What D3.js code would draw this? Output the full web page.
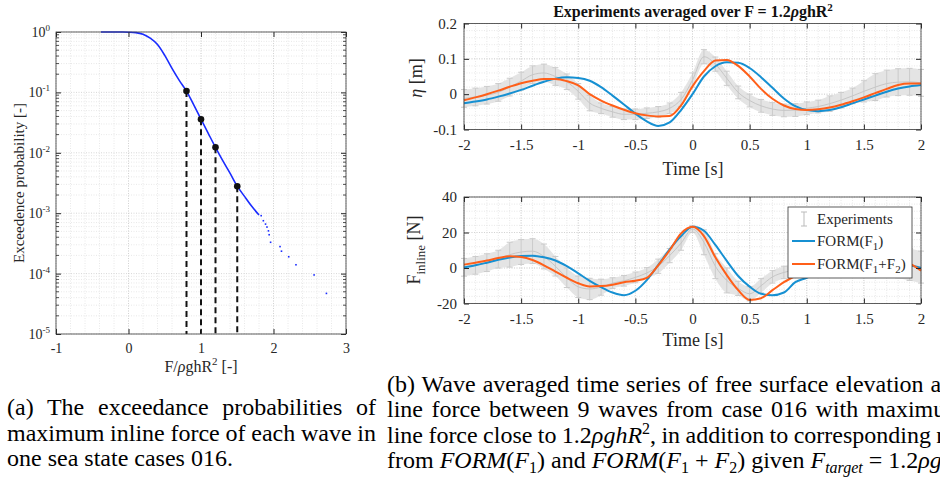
<!DOCTYPE html>
<html>
<head>
<meta charset="utf-8">
<script src="https://cdn.jsdelivr.net/npm/d3@7"></script>
<style>
  body { margin: 0; background: #fff; overflow: hidden; }
  svg { display: block; font-family: "Liberation Serif", "Times New Roman", serif; }
  .minor line { stroke: #e2e2e2; stroke-width: 0.8; stroke-dasharray: 1 1.5; }
  .major line { stroke: #cdcdcd; stroke-width: 0.8; stroke-dasharray: 1 1.5; }
  .tick line { stroke: #262626; }
  text { white-space: pre; }
</style>
</head>
<body>
<svg id="fig" width="940" height="492"></svg>
<script>
// ---- (a) exceedance probability of max inline force
const exceedForce = [-0.38, -0.3, -0.2, -0.1, 0, 0.1, 0.2, 0.3, 0.4, 0.5, 0.6, 0.7, 0.8, 0.9, 1.0, 1.1, 1.2, 1.3, 1.4, 1.5, 1.6, 1.7, 1.8];
const exceedProb = [1.0, 1.0, 1.0, 0.998, 0.993, 0.977, 0.92, 0.79, 0.62, 0.41, 0.25, 0.158, 0.105, 0.062, 0.036, 0.021, 0.0123, 0.0074, 0.0046, 0.0028, 0.0019, 0.0013, 0.00093];
const tailForce = [1.83, 1.86, 1.89, 1.91, 1.93, 1.94, 1.96, 2.09, 2.11, 2.21, 2.31, 2.56, 2.73];
const tailProb = [9.1e-4, 7.5e-4, 6.6e-4, 5.9e-4, 5.1e-4, 4.4e-4, 3.3e-4, 2.8e-4, 2.35e-4, 1.9e-4, 1.4e-4, 9.5e-5, 4.7e-5];
const markForce = [0.8, 1.0, 1.2, 1.5];
const markProb = [0.105, 0.036, 0.0123, 0.0028];
const forceTicksA = [-1, 0, 1, 2, 3];
const probTicks = [1, 1e-1, 1e-2, 1e-3, 1e-4, 1e-5];
const probExp = ["0", "-1", "-2", "-3", "-4", "-5"];

// ---- (b) averaged time series
const time = [-2, -1.9, -1.8, -1.7, -1.6, -1.5, -1.4, -1.3, -1.2, -1.1, -1, -0.9, -0.8, -0.7, -0.6, -0.5, -0.4, -0.3, -0.2, -0.1,
  0, 0.1, 0.2, 0.3, 0.4, 0.5, 0.6, 0.7, 0.8, 0.9, 1, 1.1, 1.2, 1.3, 1.4, 1.5, 1.6, 1.7, 1.8, 1.9, 2];
const etaExp = [-0.012, -0.008, -0.003, 0.005, 0.02, 0.037, 0.055, 0.06, 0.05, 0.035, 0.008, -0.025, -0.04, -0.05, -0.057, -0.057, -0.054, -0.05, -0.04, -0.015,
  0.04, 0.106, 0.085, 0.045, 0.005, -0.018, -0.033, -0.042, -0.046, -0.045, -0.04, -0.035, -0.027, -0.017, -0.005, 0.008, 0.02, 0.03, 0.034, 0.035, 0.032];
const etaExpErr = [0.025, 0.025, 0.025, 0.025, 0.025, 0.025, 0.025, 0.025, 0.025, 0.022, 0.022, 0.022, 0.015, 0.015, 0.015, 0.015, 0.015, 0.015, 0.015, 0.02,
  0.02, 0.02, 0.02, 0.02, 0.018, 0.018, 0.018, 0.018, 0.018, 0.018, 0.018, 0.018, 0.022, 0.022, 0.022, 0.03, 0.038, 0.038, 0.038, 0.038, 0.038];
const etaF1 = [-0.026, -0.021, -0.015, -0.007, 0.002, 0.012, 0.024, 0.035, 0.044, 0.048, 0.046, 0.038, 0.02, -0.004, -0.029, -0.055, -0.077, -0.09, -0.08, -0.045,
  0.0, 0.05, 0.079, 0.09, 0.089, 0.074, 0.048, 0.018, -0.012, -0.034, -0.045, -0.048, -0.045, -0.037, -0.026, -0.015, -0.004, 0.007, 0.016, 0.022, 0.026];
const etaF12 = [-0.017, -0.009, 0.0, 0.01, 0.021, 0.031, 0.038, 0.043, 0.043, 0.037, 0.025, 0.0, -0.018, -0.032, -0.044, -0.054, -0.06, -0.063, -0.062, -0.032,
  0.022, 0.065, 0.095, 0.097, 0.08, 0.05, 0.015, -0.013, -0.032, -0.042, -0.045, -0.043, -0.038, -0.03, -0.02, -0.009, 0.003, 0.015, 0.026, 0.03, 0.03];
const forceExp = [0.4, 1.5, 3, 5, 7.5, 9, 9.5, 6.5, 1, -5.5, -10.6, -11.8, -10.8, -8.5, -7.2, -5.3, -2.8, 1, 7, 14,
  22, 14.5, 1, -7, -11.5, -14.5, -10, -5, -2.5, -1, 0.5, 2, 3.5, 5, 6, 6.5, 6, 5, 3.5, 2, 0.5];
const forceExpErr = [5, 5, 5, 5, 7, 7, 7, 7, 5.5, 5.5, 6, 6, 4.5, 3, 3, 3, 3, 4, 4, 4,
  2, 7, 7, 7, 4, 4, 4, 3.5, 3.5, 3.5, 5, 5, 5, 5, 5, 7, 7, 7, 9, 9, 9];
const forceF1 = [0.3, 1.5, 3.0, 4.6, 5.9, 6.7, 6.9, 6.0, 4.2, 1.0, -3.0, -7.2, -10.8, -13.8, -15.3, -12.8, -6.8, 1.7, 10.5, 18,
  23.2, 21, 13, 4, -4.5, -10.5, -14.5, -15.3, -13.8, -8, -5.5, -2.5, 0, 2.5, 4.2, 5, 4.8, 4, 2.8, 1.5, 0];
const forceF12 = [1.9, 3.0, 4.2, 5.6, 6.6, 6.2, 4.5, 1.5, -2.0, -5.5, -8.6, -10.4, -10.2, -9.4, -8.0, -7.2, -5.6, 1.5, 10, 19.5,
  23.2, 18, 6, -4, -12.5, -18, -17, -12.5, -8, -4.5, -1.5, 1.5, 3.5, 5, 5.8, 6, 5.5, 4.5, 3.8, 2.5, -1.5];
const timeTicks = [-2, -1.5, -1, -0.5, 0, 0.5, 1, 1.5, 2];
const etaTicks = [-0.1, 0, 0.1, 0.2];
const forceTicksB = [-20, 0, 20, 40];
const seriesNames = ["Experiments", "FORM(F1)", "FORM(F1+F2)"];

const blue = "#1690d2", orange = "#ff5f19", gray = "#cbcbcb";
const serif = "Liberation Serif, serif";
const svg = d3.select("#fig");

function grid(g, x, y, xs, ys, cls) {
  const gg = g.append("g").attr("class", cls);
  gg.selectAll(".v").data(xs).join("line").attr("class", "v")
    .attr("x1", d => x(d)).attr("x2", d => x(d)).attr("y1", y.range()[0]).attr("y2", y.range()[1]);
  gg.selectAll(".h").data(ys).join("line").attr("class", "h")
    .attr("y1", d => y(d)).attr("y2", d => y(d)).attr("x1", x.range()[0]).attr("x2", x.range()[1]);
}

function frame(g, x, y, o) {
  const [x0, x1] = x.range(), [y0, y1] = y.range();
  const style = a => a.attr("font-family", serif).attr("font-size", o.fs).attr("color", "#262626")
    .call(s => s.select(".domain").remove());
  g.append("g").attr("transform", `translate(0,${y0})`)
    .call(d3.axisBottom(x).tickValues(o.xt).tickFormat(o.xf).tickSizeInner(-5).tickSizeOuter(0).tickPadding(o.px)).call(style);
  g.append("g").attr("transform", `translate(0,${y1})`)
    .call(d3.axisTop(x).tickValues(o.xt).tickFormat("").tickSizeInner(-5).tickSizeOuter(0)).call(style);
  o.ly = g.append("g").attr("transform", `translate(${x0},0)`)
    .call(d3.axisLeft(y).tickValues(o.yt).tickFormat(o.yf).tickSizeInner(-5).tickSizeOuter(0).tickPadding(o.py)).call(style);
  g.append("g").attr("transform", `translate(${x1},0)`)
    .call(d3.axisRight(y).tickValues(o.yt).tickFormat("").tickSizeInner(-5).tickSizeOuter(0)).call(style);
  g.append("rect").attr("x", x0).attr("y", y1).attr("width", x1 - x0).attr("height", y0 - y1)
    .attr("fill", "none").attr("stroke", "#3a3a3a").attr("stroke-width", 0.8);
}

// ================= panel (a)
const xA = d3.scaleLinear().domain([-1, 3]).range([56, 346]);
const yA = d3.scaleLog().domain([1e-5, 1]).range([334, 32]);
const gA = svg.append("g");
const logMinor = [];
for (let k = -5; k < 0; k++) for (let m = 2; m < 10; m++) logMinor.push(m * Math.pow(10, k));
grid(gA, xA, yA, d3.range(-1, 3.01, 0.2), logMinor, "minor");
grid(gA, xA, yA, forceTicksA, probTicks, "major");

// dashed verticals down to 1e-5
gA.selectAll(".drop").data(markForce).join("line")
  .attr("x1", d => xA(d)).attr("x2", d => xA(d))
  .attr("y1", (d, i) => yA(markProb[i])).attr("y2", yA(1e-5))
  .attr("stroke", "#111").attr("stroke-width", 2).attr("stroke-dasharray", "6 4");

const pts = exceedForce.map((f, i) => [f, exceedProb[i]]);
gA.append("path").datum(pts)
  .attr("d", d3.line().x(d => xA(d[0])).y(d => yA(d[1])).curve(d3.curveMonotoneX))
  .attr("fill", "none").attr("stroke", "#1a2cff").attr("stroke-width", 1.6);
gA.selectAll(".tail").data(tailForce).join("rect")
  .attr("x", d => xA(d) - 0.8).attr("y", (d, i) => yA(tailProb[i]) - 0.8)
  .attr("width", 1.6).attr("height", 1.6).attr("fill", "#1a2cff");
gA.selectAll(".mark").data(markForce).join("circle")
  .attr("cx", d => xA(d)).attr("cy", (d, i) => yA(markProb[i])).attr("r", 3.3).attr("fill", "#111");

const oA = { xt: forceTicksA, xf: String, yt: probTicks, yf: () => "", px: 9, py: 6, fs: 14 };
frame(gA, xA, yA, oA);
oA.ly.selectAll(".tick text").each(function (d) {
  const t = d3.select(this);
  t.text("10").append("tspan").attr("dy", -6).attr("font-size", 9).text(probExp[probTicks.indexOf(d)]);
});
// log minor ticks
[56, 346].forEach((xx, j) => gA.append("g").selectAll("line").data(logMinor).join("line")
  .attr("x1", xx).attr("x2", xx + (j ? -3 : 3)).attr("y1", d => yA(d)).attr("y2", d => yA(d))
  .attr("stroke", "#262626").attr("stroke-width", 0.8));

gA.append("text").attr("transform", "translate(24,183) rotate(-90)").attr("text-anchor", "middle")
  .attr("font-size", 15).attr("fill", "#262626").text("Exceedence probability [-]");
const xlA = gA.append("text").attr("x", 201).attr("y", 372).attr("text-anchor", "middle").attr("font-size", 16).attr("fill", "#262626");
xlA.append("tspan").text("F/");
xlA.append("tspan").attr("font-style", "italic").text("ρ");
xlA.append("tspan").text("ghR");
xlA.append("tspan").attr("dy", -7).attr("font-size", 11).text("2");
xlA.append("tspan").attr("dy", 7).text(" [-]");

// ================= panel (b)
const xB = d3.scaleLinear().domain([-2, 2]).range([464, 921]);
const yTop = d3.scaleLinear().domain([-0.1, 0.2]).range([129.5, 23.5]);
const yBot = d3.scaleLinear().domain([-20, 40]).range([303.5, 197]);

function series(g, x, y, mean, err, f1, f12) {
  const area = d3.area().x((d, i) => x(time[i])).y0((d, i) => y(mean[i] - err[i])).y1((d, i) => y(mean[i] + err[i])).curve(d3.curveMonotoneX);
  g.append("path").datum(mean).attr("d", area).attr("fill", "#e4e4e4");
  const eb = g.append("g").attr("stroke", gray).attr("stroke-width", 1);
  eb.selectAll(".eb").data(mean).join("line")
    .attr("x1", (d, i) => x(time[i])).attr("x2", (d, i) => x(time[i]))
    .attr("y1", (d, i) => y(d - err[i])).attr("y2", (d, i) => y(d + err[i]));
  [-1, 1].forEach(s => eb.selectAll(".cap" + s).data(mean).join("line")
    .attr("x1", (d, i) => x(time[i]) - 3).attr("x2", (d, i) => x(time[i]) + 3)
    .attr("y1", (d, i) => y(d + s * err[i])).attr("y2", (d, i) => y(d + s * err[i])));
  const line = d3.line().x((d, i) => x(time[i])).y(d => y(d)).curve(d3.curveMonotoneX);
  g.append("path").datum(mean).attr("d", line).attr("fill", "none").attr("stroke", "#c6c6c6").attr("stroke-width", 1);
  g.append("path").datum(f1).attr("d", line).attr("fill", "none").attr("stroke", blue).attr("stroke-width", 2);
  g.append("path").datum(f12).attr("d", line).attr("fill", "none").attr("stroke", orange).attr("stroke-width", 2);
}

// top: elevation
const gT = svg.append("g");
grid(gT, xB, yTop, d3.range(-2, 2.001, 0.1), d3.range(-0.1, 0.2001, 0.02), "minor");
grid(gT, xB, yTop, timeTicks, etaTicks, "major");
series(gT, xB, yTop, etaExp, etaExpErr, etaF1, etaF12);
frame(gT, xB, yTop, { xt: timeTicks, xf: String, yt: etaTicks, yf: String, px: 10, py: 7, fs: 15 });

const title = gT.append("text").attr("x", 693).attr("y", 17).attr("text-anchor", "middle")
  .attr("font-size", 16).attr("font-weight", "bold").attr("fill", "#111");
title.append("tspan").text("Experiments averaged over F = 1.2");
title.append("tspan").attr("font-style", "italic").text("ρ");
title.append("tspan").text("ghR");
title.append("tspan").attr("dy", -6).attr("font-size", 11).text("2");
gT.append("text").attr("x", 693).attr("y", 175).attr("text-anchor", "middle").attr("font-size", 18).attr("fill", "#262626").text("Time [s]");
const etaLab = gT.append("text").attr("transform", "translate(422,78) rotate(-90)").attr("text-anchor", "middle")
  .attr("font-size", 18).attr("fill", "#262626");
etaLab.append("tspan").attr("font-style", "italic").text("η");
etaLab.append("tspan").text(" [m]");

// bottom: inline force
const gF = svg.append("g");
grid(gF, xB, yBot, d3.range(-2, 2.001, 0.1), d3.range(-20, 40.01, 4), "minor");
grid(gF, xB, yBot, timeTicks, forceTicksB, "major");
series(gF, xB, yBot, forceExp, forceExpErr, forceF1, forceF12);
frame(gF, xB, yBot, { xt: timeTicks, xf: String, yt: forceTicksB, yf: String, px: 10, py: 7, fs: 15 });
gF.append("text").attr("x", 693).attr("y", 346).attr("text-anchor", "middle").attr("font-size", 18).attr("fill", "#262626").text("Time [s]");
const fLab = gF.append("text").attr("transform", "translate(420,250) rotate(-90)").attr("text-anchor", "middle")
  .attr("font-size", 18).attr("fill", "#262626");
fLab.append("tspan").text("F");
fLab.append("tspan").attr("dy", 5).attr("font-size", 13).text("inline");
fLab.append("tspan").attr("dy", -5).text(" [N]");

// legend
const lg = gF.append("g");
lg.append("rect").attr("x", 788).attr("y", 207).attr("width", 124).attr("height", 71)
  .attr("fill", "#fff").attr("stroke", "#333").attr("stroke-width", 0.8);
const rowY = [219, 241, 264];
lg.append("line").attr("x1", 804).attr("x2", 804).attr("y1", rowY[0] - 7).attr("y2", rowY[0] + 7).attr("stroke", "#bbb");
[-7, 7].forEach(dy => lg.append("line").attr("x1", 801).attr("x2", 807).attr("y1", rowY[0] + dy).attr("y2", rowY[0] + dy).attr("stroke", "#bbb"));
[blue, orange].forEach((c, i) => lg.append("line").attr("x1", 792).attr("x2", 815)
  .attr("y1", rowY[i + 1]).attr("y2", rowY[i + 1]).attr("stroke", c).attr("stroke-width", 2));
seriesNames.forEach((name, i) => {
  const t = lg.append("text").attr("x", 817).attr("y", rowY[i] + 5).attr("font-size", 15).attr("fill", "#262626");
  // subscript digits after F
  const parts = name.split(/(F\d)/).filter(s => s);
  let shift = 0;
  parts.forEach(p => {
    if (/^F\d$/.test(p)) {
      t.append("tspan").attr("dy", -shift).text("F");
      t.append("tspan").attr("dy", 4).attr("font-size", 11).text(p[1]);
      shift = 4;
    } else {
      t.append("tspan").attr("dy", -shift).text(p);
      shift = 0;
    }
  });
});

// ================= captions
function capLine(x, y, segs, width) {
  const t = svg.append("text").attr("x", x).attr("y", y).attr("font-size", 24).attr("fill", "#000");
  let shift = 0;
  segs.forEach(s => {
    const [str, st] = typeof s === "string" ? [s, ""] : s;
    const target = st.includes("sub") ? 5 : st.includes("sup") ? -9 : 0;
    const ts = t.append("tspan").attr("dy", target - shift).text(str);
    shift = target;
    if (st.includes("i")) ts.attr("font-style", "italic");
    if (target) ts.attr("font-size", 16);
  });
  if (width) {
    const n = t.text().split(" ").length - 1;
    const w = t.node().getComputedTextLength();
    t.attr("word-spacing", (width - w) / n);
  }
}
capLine(7, 415, ["(a) The exceedance probabilities of"], 369);
capLine(7, 441, ["maximum inline force of each wave in"], 369);
capLine(7, 466, ["one sea state cases 016."]);
capLine(387, 392, ["(b) Wave averaged time series of free surface elevation and in-"], 612);
capLine(387, 417, ["line force between 9 waves from case 016 with maximum in-"], 612);
capLine(387, 443, ["line force close to 1.2", ["ρghR", "i"], ["2", "sup"], ", in addition to corresponding results"], 612);
capLine(387, 468, ["from ", ["FORM", "i"], "(", ["F", "i"], ["1", "sub"], ") and ", ["FORM", "i"], "(", ["F", "i"], ["1", "sub"],
  " + ", ["F", "i"], ["2", "sub"], ") given ", ["F", "i"], ["target", "isub"], " = 1.2", ["ρghR", "i"], ["2", "sup"], "."]);
</script>
</body>
</html>
